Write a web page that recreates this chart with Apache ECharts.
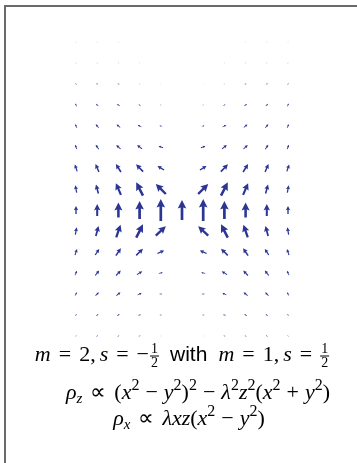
<!DOCTYPE html>
<html>
<head>
<meta charset="utf-8">
<script src="https://cdn.jsdelivr.net/npm/echarts@6/dist/echarts.min.js"></script>
<style>
  html, body { margin: 0; padding: 0; background: #fff; }
  #chart { width: 357px; height: 463px; }
</style>
</head>
<body>
<div id="chart"></div>
<script>
// Sample grid of the vector field: columns (x) and rows (y, top to bottom)
const colX = [-5, -4, -3, -2, -1, 0, 1, 2, 3, 4, 5];
const rowY = [8, 7, 6, 5, 4, 3, 2, 1, 0, -1, -2, -3, -4, -5, -6];

// Horizontal component of the field at each sample (one array per row)
const fieldU = [
  [-0.7, -0.7, -0.7, -0.4, -0.2, 0, 0.2, 0.4, 0.7, 0.7, 0.7],
  [-1.0, -1.0, -1.0, -0.7, -0.3, 0, 0.3, 0.7, 1.0, 1.0, 1.0],
  [-1.4, -1.8, -1.8, -1.3, -0.7, 0, 0.7, 1.3, 1.8, 1.8, 1.4],
  [-1.8, -2.4, -2.8, -2.2, -1.4, 0, 1.4, 2.2, 2.8, 2.4, 1.8],
  [-1.9, -3.0, -3.6, -3.6, -2.8, 0, 2.8, 3.6, 3.6, 3.0, 1.9],
  [-1.8, -3.0, -4.3, -4.8, -4.5, 0, 4.5, 4.8, 4.3, 3.0, 1.8],
  [-2.3, -3.4, -5.0, -7.0, -6.5, 0, 6.5, 7.0, 5.0, 3.4, 2.3],
  [-1.3, -2.4, -5.0, -6.7, -10.0, 0, 10.0, 6.7, 5.0, 2.4, 1.3],
  [0, 0, 0, 0, 0, 0, 0, 0, 0, 0, 0],
  [1.3, 2.7, 4.3, 6.7, 10.0, 0, -10.0, -6.7, -4.3, -2.7, -1.3],
  [2.0, 4.0, 5.0, 6.7, 6.7, 0, -6.7, -6.7, -5.0, -4.0, -2.0],
  [2.0, 4.0, 4.7, 5.3, 4.0, 0, -4.0, -5.3, -4.7, -4.0, -2.0],
  [2.0, 3.3, 4.0, 4.0, 2.7, 0, -2.7, -4.0, -4.0, -3.3, -2.0],
  [1.7, 2.3, 2.7, 2.7, 2.0, 0, -2.0, -2.7, -2.7, -2.3, -1.7],
  [1.0, 1.7, 2.0, 2.0, 1.3, 0, -1.3, -2.0, -2.0, -1.7, -1.0]
];

// Vertical component of the field at each sample (one array per row)
const fieldV = [
  [0.3, 0.3, 0.2, 0.1, 0, 0, 0, 0.1, 0.2, 0.3, 0.3],
  [0.7, 0.7, 0.4, 0.3, 0, 0, 0, 0.3, 0.4, 0.7, 0.7],
  [1.4, 1.3, 1.0, 0.4, 0.1, 0, 0.1, 0.4, 1.0, 1.3, 1.4],
  [2.8, 2.3, 1.8, 1.0, 0.3, 0, 0.3, 1.0, 1.8, 2.3, 2.8],
  [3.7, 3.5, 3.0, 2.0, 0.6, 0, 0.6, 2.0, 3.0, 3.5, 3.7],
  [4.4, 4.4, 4.0, 3.8, 1.5, 0, 1.5, 3.8, 4.0, 4.4, 4.4],
  [6.8, 7.8, 8.0, 7.3, 4.0, 0, 4.0, 7.3, 8.0, 7.8, 6.8],
  [7.3, 9.0, 11.7, 13.3, 10.0, 0, 10.0, 13.3, 11.7, 9.0, 7.3],
  [8.0, 12.0, 15.0, 18.0, 22.0, 20.0, 22.0, 18.0, 15.0, 12.0, 8.0],
  [7.3, 10.0, 12.7, 13.3, 9.3, 0, 9.3, 13.3, 12.7, 10.0, 7.3],
  [6.0, 6.0, 7.3, 6.7, 3.0, 0, 3.0, 6.7, 7.3, 6.0, 6.0],
  [4.3, 5.0, 5.0, 3.3, 0.8, 0, 0.8, 3.3, 5.0, 5.0, 4.3],
  [3.3, 3.3, 3.3, 2.0, 0, 0, 0, 2.0, 3.3, 3.3, 3.3],
  [1.7, 1.7, 1.3, 0.7, 0, 0, 0, 0.7, 1.3, 1.7, 1.7],
  [1.3, 1.0, 0.7, 0.3, 0, 0, 0, 0.3, 0.7, 1.0, 1.3]
];

// Field values per grid cell (arrow length of one cell)
const VALUE_PER_CELL = 21;

const ARROW_COLOR = '#2b3594';
const SHAFT_W = 2.7;   // shaft width of a full-size arrow
const HEAD_W = 8.6;    // head width
const HEAD_L = 8.5;    // head length
const FULL_LEN = 16;   // arrows shorter than this shrink as a whole

const quiverData = [];
rowY.forEach((y, r) => {
  colX.forEach((x, c) => {
    quiverData.push([x, y, fieldU[r][c], fieldV[r][c]]);
  });
});

function renderArrow(params, api) {
  const x = api.value(0), y = api.value(1);
  const hu = api.value(2) / VALUE_PER_CELL / 2;
  const hv = api.value(3) / VALUE_PER_CELL / 2;
  const tail = api.coord([x - hu, y - hv]);
  const tip = api.coord([x + hu, y + hv]);
  const dx = tip[0] - tail[0], dy = tip[1] - tail[1];
  const L = Math.hypot(dx, dy);
  if (L < 0.3) return null;
  const ux = dx / L, uy = dy / L;
  const nx = -uy, ny = ux;
  const k = Math.min(1, L / FULL_LEN);
  const w = SHAFT_W * k / 2, hw = HEAD_W * k / 2;
  const hl = Math.min(HEAD_L * k, L), hal = hl * 0.88;
  const pts = [
    [tail[0] + nx * w, tail[1] + ny * w],
    [tip[0] - ux * hal + nx * w, tip[1] - uy * hal + ny * w],
    [tip[0] - ux * hl + nx * hw, tip[1] - uy * hl + ny * hw],
    [tip[0], tip[1]],
    [tip[0] - ux * hl - nx * hw, tip[1] - uy * hl - ny * hw],
    [tip[0] - ux * hal - nx * w, tip[1] - uy * hal - ny * w],
    [tail[0] - nx * w, tail[1] - ny * w]
  ];
  return {
    type: 'polygon',
    shape: { points: pts },
    style: { fill: ARROW_COLOR, stroke: null }
  };
}

// ---- Formula captions, laid out token by token ----
const FONTS = {
  mi: 'italic 22px "Liberation Serif"',
  rm: '22px "Liberation Serif"',
  sf: '21px "Liberation Sans"',
  sup: '16px "Liberation Serif"',
  sub: 'italic 15px "Liberation Serif"',
  fr: '14px "Liberation Serif"'
};
const measureCtx = document.createElement('canvas').getContext('2d');
function textWidth(t, font) { measureCtx.font = font; measureCtx.textBaseline = 'alphabetic'; return measureCtx.measureText(t).width; }
function middleToBaseline(font) {
  measureCtx.font = font; measureCtx.textBaseline = 'middle';
  const d = measureCtx.measureText('H').actualBoundingBoxDescent;
  measureCtx.textBaseline = 'alphabetic';
  return d;
}

function tokenWidth(tk) {
  if (tk.g !== undefined) return tk.g;
  if (tk.frac) return Math.max(textWidth(tk.frac[0], FONTS.fr), textWidth(tk.frac[1], FONTS.fr)) + 2;
  return textWidth(tk.t, FONTS[tk.f]);
}

function textEl(t, font, x, baseline) {
  const y = baseline - middleToBaseline(font);
  return {
    type: 'text', x: x, y: y, silent: true,
    style: { text: t, font: font, fill: '#000', textAlign: 'left', textVerticalAlign: 'middle', align: 'left', verticalAlign: 'middle' }
  };
}

function layoutLine(tokens, cx, baseline) {
  const total = tokens.reduce((s, tk) => s + tokenWidth(tk), 0);
  let x = cx - total / 2;
  const els = [];
  tokens.forEach(tk => {
    const w = tokenWidth(tk);
    if (tk.frac) {
      const wn = textWidth(tk.frac[0], FONTS.fr), wd = textWidth(tk.frac[1], FONTS.fr);
      els.push(textEl(tk.frac[0], FONTS.fr, x + (w - wn) / 2, baseline - 8));
      els.push(textEl(tk.frac[1], FONTS.fr, x + (w - wd) / 2, baseline + 6));
      els.push({ type: 'line', silent: true, shape: { x1: x, y1: baseline - 5, x2: x + w, y2: baseline - 5 }, style: { stroke: '#000', lineWidth: 1 } });
    } else if (tk.t !== undefined) {
      els.push(textEl(tk.t, FONTS[tk.f], x, baseline + (tk.dy || 0)));
    }
    x += w;
  });
  return els;
}

const REL = 8, BIN = 6, THIN = 4, WORD = 11;
const SUP = -9, SUB = 4;
const line1 = [
  { t: 'm', f: 'mi' }, { g: REL }, { t: '=', f: 'rm' }, { g: REL }, { t: '2', f: 'rm' }, { t: ',', f: 'rm' }, { g: THIN },
  { t: 's', f: 'mi' }, { g: REL }, { t: '=', f: 'rm' }, { g: REL }, { t: '\u2212', f: 'rm' }, { g: 1 }, { frac: ['1', '2'] },
  { g: WORD }, { t: 'with', f: 'sf' }, { g: WORD },
  { t: 'm', f: 'mi' }, { g: REL }, { t: '=', f: 'rm' }, { g: REL }, { t: '1', f: 'rm' }, { t: ',', f: 'rm' }, { g: THIN },
  { t: 's', f: 'mi' }, { g: REL }, { t: '=', f: 'rm' }, { g: REL }, { frac: ['1', '2'] }
];
const line2 = [
  { t: '\u03c1', f: 'mi' }, { t: 'z', f: 'sub', dy: SUB }, { g: REL }, { t: '\u221d', f: 'rm' }, { g: REL },
  { t: '(', f: 'rm' }, { t: 'x', f: 'mi' }, { t: '2', f: 'sup', dy: SUP }, { g: BIN }, { t: '\u2212', f: 'rm' }, { g: BIN },
  { t: 'y', f: 'mi' }, { t: '2', f: 'sup', dy: SUP }, { t: ')', f: 'rm' }, { t: '2', f: 'sup', dy: SUP },
  { g: BIN }, { t: '\u2212', f: 'rm' }, { g: BIN },
  { t: '\u03bb', f: 'mi' }, { t: '2', f: 'sup', dy: SUP }, { t: 'z', f: 'mi' }, { t: '2', f: 'sup', dy: SUP },
  { t: '(', f: 'rm' }, { t: 'x', f: 'mi' }, { t: '2', f: 'sup', dy: SUP }, { g: BIN }, { t: '+', f: 'rm' }, { g: BIN },
  { t: 'y', f: 'mi' }, { t: '2', f: 'sup', dy: SUP }, { t: ')', f: 'rm' }
];
const line3 = [
  { t: '\u03c1', f: 'mi' }, { t: 'x', f: 'sub', dy: SUB }, { g: REL }, { t: '\u221d', f: 'rm' }, { g: REL },
  { t: '\u03bb', f: 'mi' }, { t: 'x', f: 'mi' }, { t: 'z', f: 'mi' },
  { t: '(', f: 'rm' }, { t: 'x', f: 'mi' }, { t: '2', f: 'sup', dy: SUP }, { g: BIN }, { t: '\u2212', f: 'rm' }, { g: BIN },
  { t: 'y', f: 'mi' }, { t: '2', f: 'sup', dy: SUP }, { t: ')', f: 'rm' }
];

const captionEls = [].concat(
  layoutLine(line1, 182, 361),
  layoutLine(line2, 198, 399),
  layoutLine(line3, 189, 425)
);

const frameEls = [
  { type: 'line', silent: true, shape: { x1: 4, y1: 6, x2: 357, y2: 6 }, style: { stroke: '#6a6a6a', lineWidth: 2 } },
  { type: 'line', silent: true, shape: { x1: 5, y1: 5, x2: 5, y2: 463 }, style: { stroke: '#6a6a6a', lineWidth: 2 } }
];

const chart = echarts.init(document.getElementById('chart'), null, { renderer: 'canvas' });
chart.setOption({
  animation: false,
  backgroundColor: '#fff',
  grid: { left: 54.8, top: 21, width: 254.4, height: 336 },
  xAxis: { type: 'value', min: -6, max: 6, show: false },
  yAxis: { type: 'value', min: -7, max: 9, show: false },
  series: [{
    type: 'custom',
    coordinateSystem: 'cartesian2d',
    renderItem: renderArrow,
    clip: false,
    encode: { x: 0, y: 1 },
    data: quiverData
  }],
  graphic: { elements: frameEls.concat(captionEls) }
});
</script>
</body>
</html>
